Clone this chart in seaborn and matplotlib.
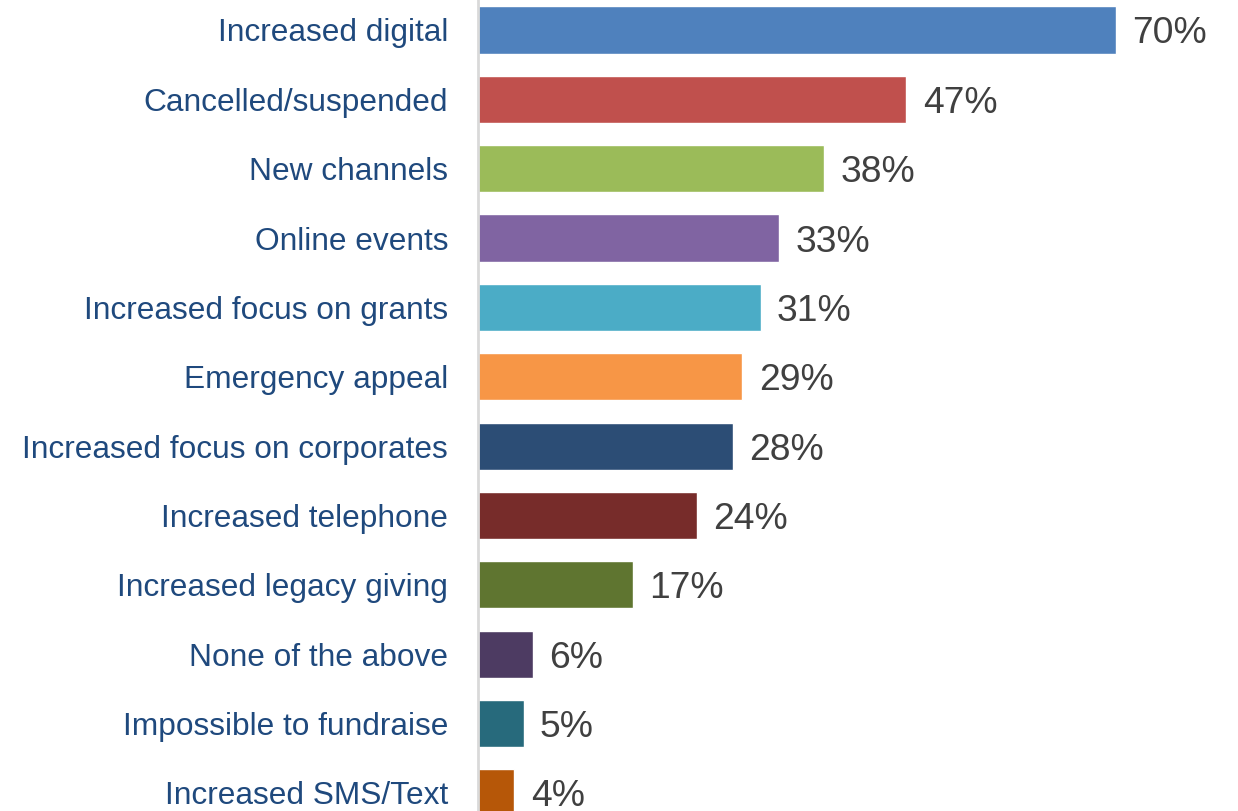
import matplotlib
matplotlib.use("Agg")
import matplotlib.pyplot as plt
import seaborn as sns
import pandas as pd

categories = [
    "Increased digital",
    "Cancelled/suspended",
    "New channels",
    "Online events",
    "Increased focus on grants",
    "Emergency appeal",
    "Increased focus on corporates",
    "Increased telephone",
    "Increased legacy giving",
    "None of the above",
    "Impossible to fundraise",
    "Increased SMS/Text",
]
values = [70, 47, 38, 33, 31, 29, 28, 24, 17, 6, 5, 4]
bar_colors = [
    "#4F81BD", "#C0504D", "#9BBB59", "#8064A2", "#4BACC6", "#F79646",
    "#2C4D75", "#772C2A", "#5F7530", "#4D3B62", "#276A7C", "#B65708",
]

df = pd.DataFrame({"category": categories, "value": values})

sns.set_style("white")
plt.rcParams["font.family"] = ["Liberation Sans", "DejaVu Sans"]

W, H = 1238, 811
fig = plt.figure(figsize=(W / 100, H / 100), dpi=100)
ax = fig.add_axes([478 / W, 0, 1 - 478 / W, 1])

sns.barplot(
    data=df, y="category", x="value", hue="category",
    palette=bar_colors, orient="h", width=0.68, legend=False, ax=ax,
    saturation=1,
)

ax.set_xlim(0, (W - 478) / 9.114)
ax.set_ylim(11.26, -0.432)
ax.set_xlabel("")
ax.set_ylabel("")
ax.set_xticks([])

for spine in ["top", "right", "bottom"]:
    ax.spines[spine].set_visible(False)
ax.spines["left"].set_color("#D9D9D9")
ax.spines["left"].set_linewidth(2)

ax.tick_params(axis="y", length=0, pad=21.5, labelsize=22.8, labelcolor="#1F497D")

for i, v in enumerate(values):
    ax.text(v + 1.8, i, f"{v}%", va="center_baseline", ha="left",
            fontsize=26.8, color="#404040")

fig.savefig("out.png", dpi=100)
